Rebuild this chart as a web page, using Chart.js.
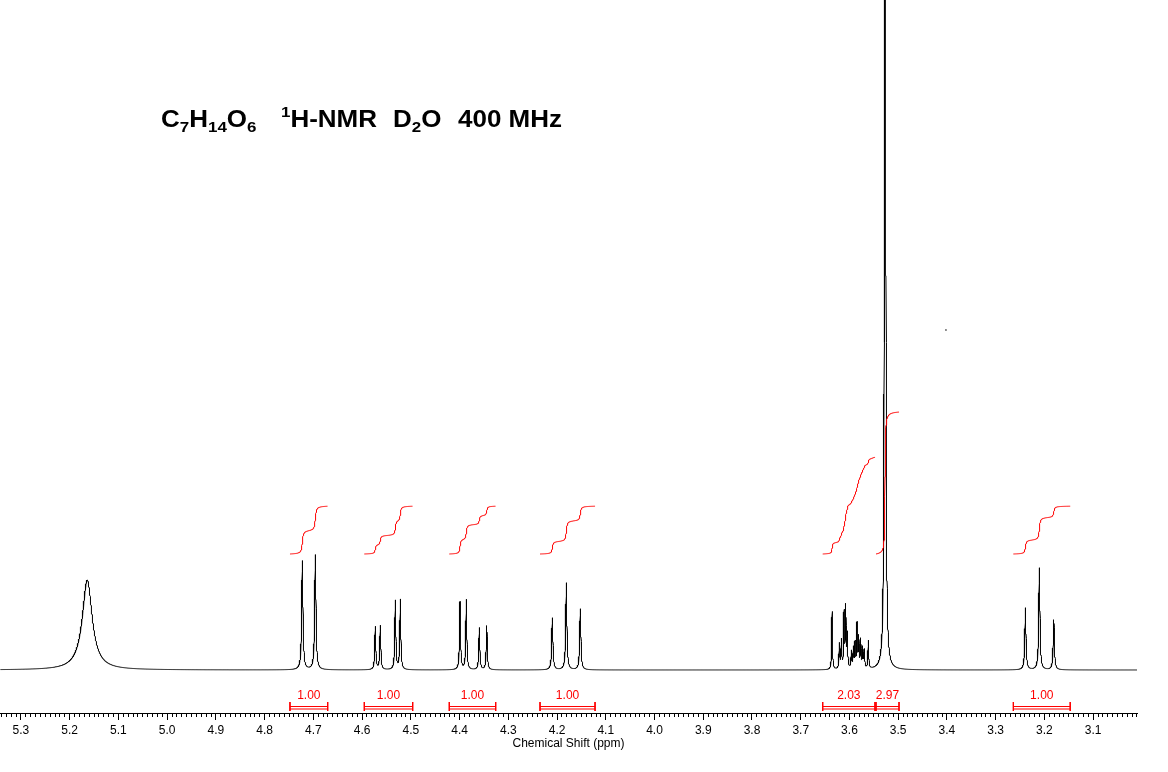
<!DOCTYPE html>
<html>
<head>
<meta charset="utf-8">
<script src="https://cdn.jsdelivr.net/npm/chart.js@4.4.1/dist/chart.umd.min.js"></script>
<style>
  html, body { margin: 0; padding: 0; background: #fff; }
  #wrap { width: 1168px; height: 772px; position: relative; }
</style>
</head>
<body>
<div id="wrap"><canvas id="nmr"></canvas></div>
<script>
// peak list: shift (ppm), height (px above baseline), half width (ppm)
const peakShifts = [5.164,
  4.7227, 4.6960,
  4.5730, 4.5627, 4.5319, 4.5216,
  4.3991, 4.3862, 4.3595, 4.3443,
  4.2097, 4.1810, 4.1523,
  3.6357, 3.6208, 3.6167, 3.6112, 3.6077, 3.6044, 3.5962, 3.5921,
  3.5886, 3.5845, 3.5810, 3.5769, 3.5728, 3.5695, 3.5613,
  3.5270,
  3.2390, 3.2104, 3.1808];
const peakHeights = [90,
  109, 115,
  43, 44, 69, 70,
  68, 70, 42, 44,
  52, 87, 61,
  58, 25, 28, 55, 60, 33, 17, 20,
  25, 44, 30, 28, 20, 18, 28,
  3000,
  62, 102, 50];
const peakWidths = [0.0123,
  0.0015, 0.0015,
  0.0012, 0.0012, 0.0012, 0.0012,
  0.0012, 0.0012, 0.0012, 0.0012,
  0.0014, 0.0014, 0.0014,
  0.0009, 0.0009, 0.0009, 0.0009, 0.0009, 0.0009, 0.0009, 0.0009,
  0.0009, 0.0009, 0.0009, 0.0009, 0.0009, 0.0009, 0.0009,
  0.0007,
  0.0014, 0.0014, 0.0014];

// integration regions (ppm) and their values
const integralFrom = [4.748, 4.5955, 4.4211, 4.2349, 3.6549, 3.5455, 3.2637];
const integralTo = [4.6706, 4.4962, 4.3259, 4.1220, 3.5476, 3.4983, 3.1470];
const integralValues = [1.00, 1.00, 1.00, 1.00, 2.03, 2.97, 1.00];

// axis
const majorTickValues = [5.3, 5.2, 5.1, 5.0, 4.9, 4.8, 4.7, 4.6, 4.5, 4.4, 4.3, 4.2, 4.1, 4.0, 3.9, 3.8, 3.7, 3.6, 3.5, 3.4, 3.3, 3.2, 3.1];
const ppmMin = 3.01, ppmMax = 5.343;

// lone speck above the baseline
const strayPoint = [{ x: 3.402, y: 340 }];

const INT_BASE = 116, INT_SCALE = 47.8;

function lineshape(ppm) {
  let s = 0;
  for (let i = 0; i < peakShifts.length; i++) {
    const d = (ppm - peakShifts[i]) / peakWidths[i];
    s += peakHeights[i] / (1 + d * d);
  }
  return s;
}

// running area, growing as ppm decreases
function runningArea(ppm) {
  let s = 0;
  for (let i = 0; i < peakShifts.length; i++) {
    s += peakHeights[i] * peakWidths[i] * Math.atan((peakShifts[i] - ppm) / peakWidths[i]);
  }
  return s;
}

// spectrum trace
const xs = [];
for (let p = ppmMin; p <= ppmMax; p += 0.0002) xs.push(p);
peakShifts.forEach(p => xs.push(p));
xs.sort((a, b) => a - b);
const spectrum = xs.map(p => ({ x: p, y: lineshape(p) }));

// integral curves
const integralCurves = [];
integralFrom.forEach((from, k) => {
  const to = integralTo[k];
  const a0 = runningArea(from), a1 = runningArea(to);
  for (let p = from; p >= to; p -= 0.0003) {
    integralCurves.push({ x: p, y: INT_BASE + INT_SCALE * integralValues[k] * (runningArea(p) - a0) / (a1 - a0) });
  }
  integralCurves.push({ x: to, y: INT_BASE + INT_SCALE * integralValues[k] });
  integralCurves.push({ x: to, y: null });
});

// integration brackets under the baseline
const brackets = [];
integralFrom.forEach((from, k) => {
  const to = integralTo[k];
  brackets.push({ x: from, y: -36.5 }, { x: to, y: -36.5 }, { x: to, y: null });
  brackets.push({ x: from, y: -39 }, { x: to, y: -39 }, { x: to, y: null });
  brackets.push({ x: from, y: -32 }, { x: from, y: -41 }, { x: from, y: null });
  brackets.push({ x: to, y: -32 }, { x: to, y: -41 }, { x: to, y: null });
});

const integralLabels = {
  id: 'integralLabels',
  afterDatasetsDraw(chart) {
    const { ctx, scales } = chart;
    ctx.save();
    ctx.font = '12px "Liberation Sans", Arial, sans-serif';
    ctx.fillStyle = '#ff0000';
    ctx.textAlign = 'center';
    ctx.textBaseline = 'middle';
    integralFrom.forEach((from, k) => {
      const cx = (scales.x.getPixelForValue(from) + scales.x.getPixelForValue(integralTo[k])) / 2;
      ctx.fillText(integralValues[k].toFixed(2), cx, scales.y.getPixelForValue(-25.5));
    });
    ctx.restore();
  }
};

// heading with sub/superscripts
const titleGroups = [
  { x: 161, segs: [['C', 0], ['7', 1], ['H', 0], ['14', 1], ['O', 0], ['6', 1]] },
  { x: 281, segs: [['1', 2], ['H-NMR', 0]] },
  { x: 393, segs: [['D', 0], ['2', 1], ['O', 0]] },
  { x: 458, segs: [['400 MHz', 0]] }
];
const heading = {
  id: 'heading',
  afterDraw(chart) {
    const ctx = chart.ctx;
    ctx.save();
    ctx.fillStyle = '#000';
    ctx.textBaseline = 'alphabetic';
    ctx.textAlign = 'left';
    const base = 127, stretch = 1.13;
    titleGroups.forEach(g => {
      let x = g.x;
      g.segs.forEach(([t, kind]) => {
        ctx.font = kind === 0 ? 'bold 23px "Liberation Sans", Arial, sans-serif'
                              : 'bold 15px "Liberation Sans", Arial, sans-serif';
        const y = kind === 1 ? base + 5 : kind === 2 ? base - 10 : base;
        ctx.save();
        ctx.translate(x, y);
        ctx.scale(stretch, 1);
        ctx.fillText(t, 0, 0);
        ctx.restore();
        x += ctx.measureText(t).width * stretch;
      });
    });
    ctx.restore();
  }
};

new Chart(document.getElementById('nmr'), {
  type: 'line',
  data: {
    datasets: [
      { label: 'Integrals', data: integralCurves, borderColor: '#ff0000', borderWidth: 1, pointRadius: 0, tension: 0 },
      { label: 'Brackets', data: brackets, borderColor: '#ff0000', borderWidth: 1, pointRadius: 0, tension: 0 },
      { label: 'Speck', data: strayPoint, showLine: false, pointRadius: 0.8, pointBackgroundColor: '#000', pointBorderWidth: 0 },
      { label: 'Spectrum', data: spectrum, borderColor: '#000000', borderWidth: 1, pointRadius: 0, tension: 0 }
    ]
  },
  options: {
    responsive: true,
    maintainAspectRatio: false,
    animation: false,
    events: [],
    layout: { autoPadding: false, padding: { left: 0, right: 31, top: 0, bottom: 21.2 } },
    plugins: { legend: { display: false }, tooltip: { enabled: false } },
    scales: {
      x: {
        type: 'linear',
        position: 'bottom',
        reverse: true,
        min: ppmMin,
        max: ppmMax,
        afterBuildTicks: s => { s.ticks = majorTickValues.map(v => ({ value: v })); },
        ticks: {
          autoSkip: false,
          maxRotation: 0,
          padding: 3,
          color: '#000',
          font: { family: '"Liberation Sans", Arial, sans-serif', size: 12 },
          callback: v => v.toFixed(1)
        },
        grid: { drawOnChartArea: false, tickLength: 7, tickColor: '#000', tickWidth: 1 },
        border: { color: '#000', width: 1 },
        title: {
          display: true,
          text: 'Chemical Shift (ppm)',
          color: '#000',
          padding: { top: -4, bottom: 0 },
          font: { family: '"Liberation Sans", Arial, sans-serif', size: 12 }
        }
      },
      xm: {
        type: 'linear',
        position: { y: -43 },
        reverse: true,
        min: ppmMin,
        max: ppmMax,
        ticks: { display: false, stepSize: 0.01, autoSkip: false, includeBounds: false },
        grid: { drawOnChartArea: false, tickLength: 4, tickColor: '#000', tickWidth: 1 },
        border: { display: false }
      },
      y: {
        type: 'linear',
        display: false,
        min: -43,
        max: 670
      }
    }
  },
  plugins: [integralLabels, heading]
});
</script>
</body>
</html>
